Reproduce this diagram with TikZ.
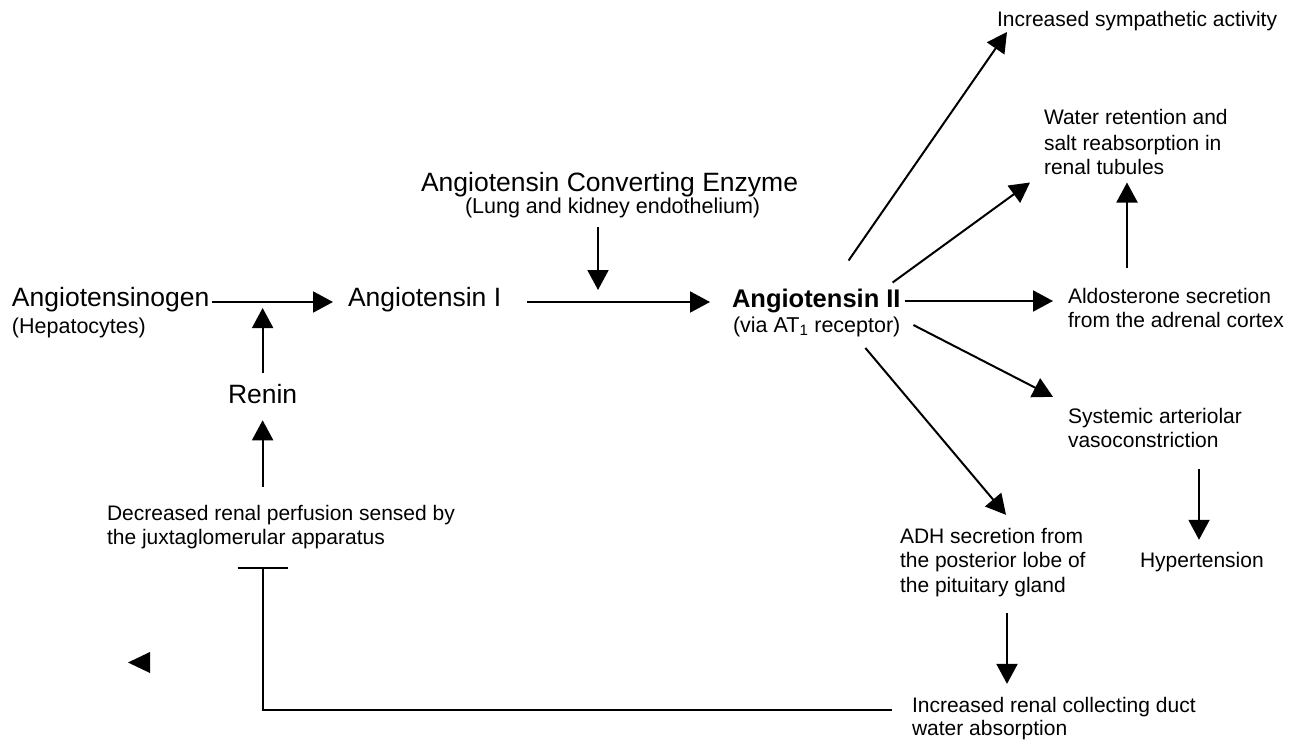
\documentclass[tikz,border=0pt]{standalone}
\usepackage{fontspec}
\setmainfont{Liberation Sans}
\usetikzlibrary{arrows.meta,calc}
\newcommand{\mylines}[1]{\begin{tabular}[t]{@{}l@{}}#1\end{tabular}}
\begin{document}
\begin{tikzpicture}[x=1pt,y=-1pt,
  lbl/.style={inner sep=0pt, outer sep=0pt, anchor=base west},
  big/.style={lbl, font=\fontsize{26.5}{30}\selectfont},
  bigbold/.style={lbl, font=\fontsize{25.5}{30}\selectfont\bfseries},
  paren/.style={lbl, font=\fontsize{21.5}{25}\selectfont},
  small/.style={lbl, font=\fontsize{21}{24.5}\selectfont},
  arr/.style={line width=2pt, -{Triangle[length=20pt,width=21pt]}},
  inhib/.style={line width=2pt, -{Bar[width=50pt]}},
]
\useasboundingbox (0,0) rectangle (1304,741);

% nodes
\node[big] (ag) at (12,306) {Angiotensinogen};
\node[paren] (hep) at (12,333) {(Hepatocytes)};
\node[big] (a1) at (348,306) {Angiotensin I};
\node[big] (renin) at (228,403) {Renin};
\node[big] (ace) at (421,191) {Angiotensin Converting Enzyme};
\node[paren] (lung) at (465,213) {(Lung and kidney endothelium)};
\node[bigbold] (a2) at (732,307) {Angiotensin II};
\node[paren] (via) at (733,332) {(via AT\textsubscript{1} receptor)};
\node[small] (sym) at (997,27) {Increased sympathetic activity};
\node[small, font=\fontsize{21}{25}\selectfont] (water) at (1044,125) {\mylines{Water retention and\\ salt reabsorption in\\ renal tubules}};
\node[small] (aldo) at (1068,303) {\mylines{Aldosterone secretion\\ from the adrenal cortex}};
\node[small] (syst) at (1068,423) {\mylines{Systemic arteriolar\\ vasoconstriction}};
\node[small] (hyper) at (1140,567) {Hypertension};
\node[small] (adh) at (900,543) {\mylines{ADH secretion from\\ the posterior lobe of\\ the pituitary gland}};
\node[small] (dec) at (107,520) {\mylines{Decreased renal perfusion sensed by\\ the juxtaglomerular apparatus}};
\node[small, font=\fontsize{21}{23}\selectfont] (coll) at (912,712) {\mylines{Increased renal collecting duct\\ water absorption}};

\coordinate (j1) at ([shift={(0,2)}]renin.north |- ag.base);
\coordinate (j2) at (598,290);

% connectors
\draw[arr] ([shift={(3,-4)}]ag.base east) -- ([shift={(-15,-4)}]a1.base west);
\draw[arr] ([shift={(0,-11)}]renin.north) -- (j1);
\draw[arr] ([shift={(0,-16)}]renin.south |- dec.north) -- ([shift={(0,17)}]renin.south);
\draw[inhib] ([shift={(-20,-2)}]coll.base west) -| ([shift={(0,15)}]renin.south |- dec.south);
\draw[arr] ([shift={(26,-4)}]a1.base east) -- ([shift={(-22,-5)}]a2.base west);
\draw[arr] ([shift={(0,10)}]j2 |- lung.south) -- (j2);
\draw[arr] ([shift={(4,-6)}]a2.base east) -- ([shift={(-15,-2)}]aldo.base west);
\draw[arr] ([shift={(-52,-28)}]a2.north east) -- ([shift={(10,5)}]sym.base west);
\draw[arr] ([shift={(-8,-6)}]a2.north east) -- ([shift={(-14,0)}]water.south west);
\draw[arr] ([shift={(59,-18)}]aldo.north west) -- ([shift={(83,0)}]water.south west);
\draw[arr] ([shift={(13,-7)}]via.base east) -- ([shift={(-15,-9)}]syst.north west);
\draw[arr] ([shift={(-35,11.5)}]via.south east) -- ([shift={(106,-11)}]adh.north west);
\draw[arr] ([shift={(131,14)}]syst.south west) -- ([shift={(59,-12)}]hyper.north west);
\draw[arr] ([shift={(107,14)}]adh.south west) -- ([shift={(95,-12)}]coll.north west);

% stray arrowhead
\fill (150,652) -- (150,673) -- (128,662.5) -- cycle;
\end{tikzpicture}
\end{document}
